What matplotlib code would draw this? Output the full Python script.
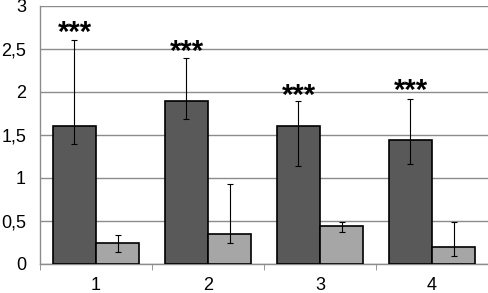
import matplotlib
matplotlib.use("Agg")
import matplotlib.pyplot as plt
import numpy as np

categories = ["1", "2", "3", "4"]
dark_vals = [1.6, 1.9, 1.6, 1.44]
dark_err_low = [1.4, 1.69, 1.14, 1.16]
dark_err_high = [2.6, 2.4, 1.9, 1.92]
light_vals = [0.25, 0.35, 0.44, 0.2]
light_err_low = [0.14, 0.24, 0.37, 0.09]
light_err_high = [0.34, 0.93, 0.49, 0.49]
star_y = [2.69, 2.47, 1.95, 2.01]
star_text = "***"
yticks = [0, 0.5, 1, 1.5, 2, 2.5, 3]
ytick_labels = ["0", "0,5", "1", "1,5", "2", "2,5", "3"]

plt.rcParams['font.family'] = ['Liberation Sans', 'DejaVu Sans']

fig = plt.figure(figsize=(4.89, 2.93), dpi=100)
ax = fig.add_axes([40/489, 29/293, 448/489, 258/293])

x = np.arange(1, len(categories) + 1)
w = 0.384
dv = np.array(dark_vals); lv = np.array(light_vals)
ax.bar(x - w/2, dv, w, color="#595959", edgecolor="black", linewidth=1.2, zorder=3)
ax.bar(x + w/2, lv, w, color="#a6a6a6", edgecolor="black", linewidth=1.2, zorder=3)
ax.errorbar(x - w/2, dv, yerr=[dv - np.array(dark_err_low), np.array(dark_err_high) - dv],
            fmt="none", ecolor="black", elinewidth=0.8, capsize=2.5, capthick=0.8, zorder=4)
ax.errorbar(x + w/2, lv, yerr=[lv - np.array(light_err_low), np.array(light_err_high) - lv],
            fmt="none", ecolor="black", elinewidth=0.8, capsize=2.5, capthick=0.8, zorder=4)
for xi, sy in zip(x, star_y):
    ax.text(xi - w/2, sy, star_text, ha="center", va="center", fontsize=21,
            fontweight="bold", zorder=5)

ax.set_xlim(0.5, len(categories) + 0.5)
ax.set_ylim(0, 3)
ax.set_yticks(yticks)
ax.set_yticklabels(ytick_labels, fontsize=13)
ax.set_xticks(x)
ax.set_xticklabels(categories, fontsize=13)
ax.set_xticks(np.arange(0.5, len(categories) + 1, 1), minor=True)
ax.tick_params(axis="x", which="major", length=0, pad=9)
ax.tick_params(axis="x", which="minor", length=4, color="#888888", direction="out")
ax.tick_params(axis="y", length=0, pad=10)
ax.grid(axis="y", color="#8c8c8c", linewidth=1.0, zorder=0)
ax.set_axisbelow(True)
for s in ["top", "right"]:
    ax.spines[s].set_visible(False)
ax.spines["left"].set_color("#8c8c8c")
ax.spines["bottom"].set_color("#8c8c8c")
ax.spines["left"].set_linewidth(1.0)
ax.spines["bottom"].set_linewidth(1.0)

fig.savefig("out.png", dpi=100)
